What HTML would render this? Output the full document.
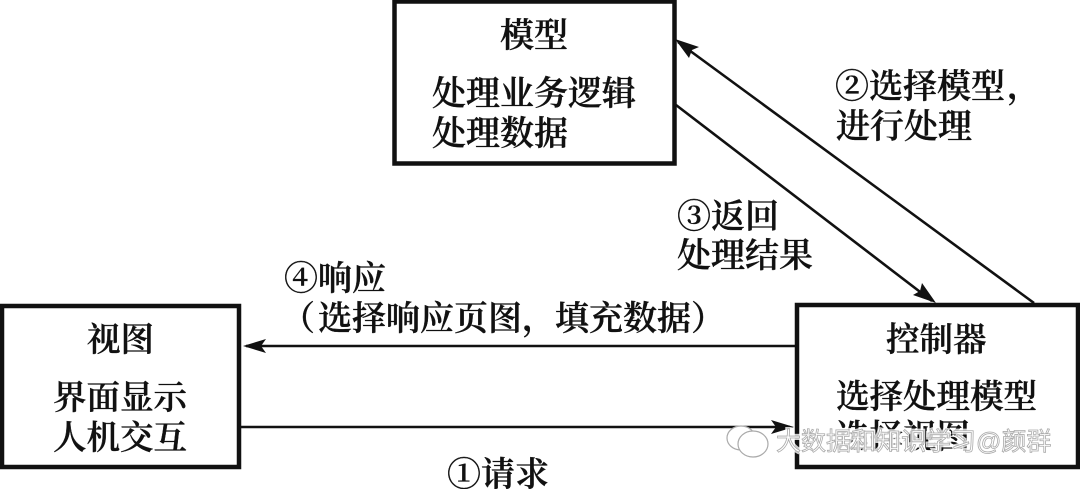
<!DOCTYPE html>
<html><head><meta charset="utf-8"><style>
html,body{margin:0;padding:0;background:#fff}
svg{display:block}
text{font-family:"Liberation Serif","Noto Serif CJK SC",serif;font-size:34px;font-weight:600;fill:#111;stroke:#111;stroke-width:.35px}
.s{font-size:33.5px}
.w{font-family:"Liberation Sans","Noto Sans CJK SC",sans-serif;font-size:25px;font-weight:400;fill:#fff;stroke:#aaa;stroke-width:.8px}
.h{font-family:"Liberation Sans","Noto Sans CJK SC",sans-serif;font-size:25px;font-weight:700;fill:#fff;stroke:#fff;stroke-width:3px;opacity:.8}
</style></head><body>
<svg width="1080" height="489" viewBox="0 0 1080 489" xmlns="http://www.w3.org/2000/svg">
<rect width="1080" height="489" fill="#fff"/>
<g fill="none" stroke="#111" stroke-width="4.5">
<rect x="394.5" y="1.5" width="280" height="162"/>
<rect x="2" y="306" width="237" height="161"/>
<rect x="797" y="305" width="281" height="162"/>
</g>
<g stroke="#111" stroke-width="2.6" fill="none">
<line x1="678" y1="42" x2="1034" y2="303"/>
<line x1="676" y1="105" x2="932" y2="301"/>
<line x1="246" y1="346" x2="795" y2="346"/>
<line x1="241" y1="427" x2="790" y2="427"/>
</g>
<g fill="#111">
<path d="M675 39 L699 47 L692 50 L689 58 Z"/>
<path d="M936 303 L913 295 L920 291 L922 283 Z"/>
<path d="M243 346 L266 339 L261 346 L266 353 Z"/>
<path d="M794 427 L771 420 L776 427 L771 434 Z"/>
</g>
<text x="500" y="47">模型</text>
<text x="432" y="105">处理业务逻辑</text>
<text x="432" y="145">处理数据</text>
<text class="s" x="87" y="351">视图</text>
<text class="s" x="53" y="409">界面显示</text>
<text class="s" x="53" y="449">人机交互</text>
<text class="s" x="886" y="351">控制器</text>
<text class="s" x="836" y="408">选择处理模型</text>
<text class="s" x="836" y="448">选择视图</text>
<text x="835" y="98">②选择模型</text>
<text x="1007" y="98">，</text>
<text x="836" y="138">进行处理</text>
<text x="677" y="228">③返回</text>
<text x="677" y="267">处理结果</text>
<text x="284" y="290">④响应</text>
<text x="281" y="330">（</text>
<text x="318" y="330">选择响应页图，</text>
<text x="555" y="330">填充数据）</text>
<text x="447" y="486">①请求</text>
<g fill="#fff" stroke="#aaa" stroke-width="1.2">
<ellipse cx="741" cy="438" rx="14" ry="12"/>
<ellipse cx="753" cy="444" rx="15" ry="13"/>
</g>
<text class="h" x="776" y="450">大数据和知识学习@颜群</text>
<text class="w" x="776" y="450">大数据和知识学习@颜群</text>
</svg>
</body></html>
